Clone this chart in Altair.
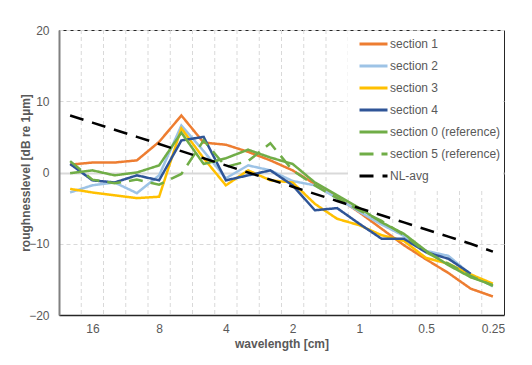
import altair as alt
import pandas as pd

wavelengths = ["20", "16", "12.5", "10", "8", "6.3", "5", "4", "3.15", "2.5",
               "2", "1.6", "1.25", "1", "0.8", "0.63", "0.5", "0.4", "0.315", "0.25"]
tick_labels = {1: "16", 4: "8", 7: "4", 10: "2", 13: "1", 16: "0.5", 19: "0.25"}

section_1 = [1.1, 1.4, 1.4, 1.7, 4.3, 8.0, 4.2, 3.9, 2.9, 1.7,
             0.3, -1.6, -3.5, -5.6, -7.9, -10.2, -12.2, -14.1, -16.3, -17.4]
section_2 = [-2.8, -1.8, -1.4, -2.9, -0.4, 6.6, 3.0, -0.8, 1.0, 0.3,
             -1.2, -1.8, -3.6, -5.5, -7.3, -8.9, -11.0, -11.7, -14.3, -16.0]
section_3 = [-2.3, -2.8, -3.2, -3.6, -3.4, 6.2, 2.0, -1.8, 0.3, -1.1,
             -1.4, -4.4, -6.5, -7.4, -8.8, -9.6, -12.0, -12.8, -14.3, -15.6]
section_4 = [1.2, -1.1, -1.4, -0.4, -1.1, 4.5, 5.0, -1.1, -0.4, 0.3,
             -1.8, -5.3, -5.0, -7.2, -9.3, -9.3, -11.2, -12.1, -14.2, None]
section_0 = [-0.1, 0.3, -0.4, 0.0, 1.0, 5.6, 1.2, 2.0, 3.2, 2.1,
             1.2, -1.4, -3.2, -5.0, -7.0, -8.6, -11.0, -13.0, -14.7, -15.8]
section_5 = [1.6, -1.0, -1.5, -1.0, -1.7, -0.2, 4.5, 0.8, 1.6, 4.1,
             0.3, -1.8, -3.6, -5.3, -6.8, -8.8, -11.2, -12.8, -14.5, -15.9]
nl_avg = [8.0, 7.0, 6.0, 5.0, 4.0, 3.0, 2.0, 1.0, 0.0, -1.0,
          -2.0, -3.0, -4.0, -5.0, -6.0, -7.0, -8.0, -9.0, -10.0, -11.1]

series_names = ["section 1", "section 2", "section 3", "section 4",
                "section 0 (reference)", "section 5 (reference)", "NL-avg"]
series_values = [section_1, section_2, section_3, section_4, section_0, section_5, nl_avg]
series_colors = ["#ED7D31", "#9DC3E6", "#FFC000", "#2F5597", "#70AD47", "#70AD47", "#000000"]
series_dash = [[1, 0], [1, 0], [1, 0], [1, 0], [1, 0], [14, 8], [14, 9]]

rows = []
for order, (name, vals) in enumerate(zip(series_names, series_values)):
    for i, v in enumerate(vals):
        if v is not None:
            rows.append({"series": name, "i": i, "wavelength": wavelengths[i],
                         "level": v, "order": order})
df = pd.DataFrame(rows)

label_expr = " : ".join(f"datum.value == {k} ? '{v}'" for k, v in tick_labels.items()) + " : ''"

FONT = "Liberation Sans"
GREY = "#595959"

xscale = alt.Scale(domain=[-0.5, 19.5], nice=False, zero=False)
yscale = alt.Scale(domain=[-20, 20], nice=False)

x_axis = alt.Axis(values=list(tick_labels.keys()), labelExpr=label_expr,
                  grid=False, ticks=False, title="wavelength [cm]",
                  labelFont=FONT, labelFontSize=12, labelColor=GREY,
                  labelPadding=8, titleFont=FONT, titleFontSize=12,
                  titleFontWeight="bold", titleColor=GREY, titlePadding=4,
                  domainColor="#262626", domainWidth=1.5)

color = alt.Color("series:N", scale=alt.Scale(domain=series_names, range=series_colors),
                  sort=series_names, title=None)
dash = alt.StrokeDash("series:N", scale=alt.Scale(domain=series_names, range=series_dash),
                      sort=series_names, title=None)

lines = alt.Chart(df).mark_line(strokeWidth=2.5).encode(
    x=alt.X("i:Q", scale=xscale, axis=x_axis),
    y=alt.Y("level:Q", scale=yscale,
            axis=alt.Axis(values=[-20, -10, 0, 10, 20], ticks=False,
                          title="roughnesslevel [dB re 1µm]",
                          labelFont=FONT, labelFontSize=12, labelColor=GREY,
                          labelPadding=10, titleFont=FONT, titleFontSize=12,
                          titleFontWeight="bold", titleColor=GREY, titlePadding=-4,
                          grid=True, gridColor="#D9D9D9",
                          gridDash={"expr": "datum.value == 0 ? [] : [4, 3]"},
                          gridWidth={"expr": "datum.value == 0 ? 2 : 1"},
                          domainColor="#808080", domainWidth=2)),
    color=color,
    strokeDash=dash,
    order=alt.Order("order:Q"),
    detail="series:N",
)

grid_df = pd.DataFrame({"i": [k + 0.5 for k in range(19)]})
vgrid = alt.Chart(grid_df).mark_rule(color="#D9D9D9", strokeDash=[4, 3], strokeWidth=1).encode(
    x=alt.X("i:Q", scale=xscale, axis=x_axis),
    y=alt.value(0), y2=alt.value(285),
)

chart = alt.layer(vgrid, lines).properties(
    width=445, height=285,
    autosize=alt.AutoSizeParams(type="none"),
    padding={"left": 51, "top": 22, "right": 20, "bottom": 42},
).configure_view(
    stroke="#262626", strokeWidth=1
).configure_legend(
    orient="none", legendX=289, legendY=1, fillColor="white",
    padding=2, symbolOffset=8, symbolType="stroke", symbolSize=784, symbolStrokeWidth=3,
    clipHeight=22, rowPadding=0, labelFont=FONT, labelFontSize=12,
    labelColor=GREY, labelOffset=1, titlePadding=0
)

chart.save("out.html", embed_options={"renderer": "svg", "actions": False})
